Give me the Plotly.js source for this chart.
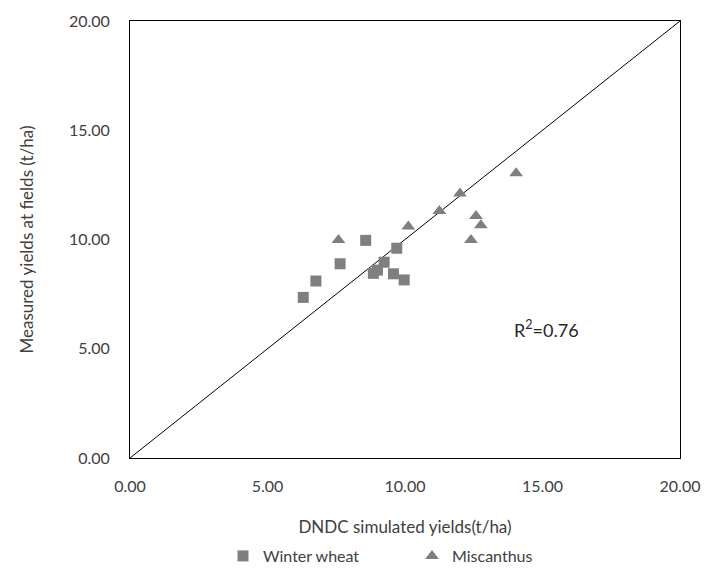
<!DOCTYPE html>
<html>
<head>
<meta charset="utf-8">
<script src="https://cdn.plot.ly/plotly-3.0.1.min.js"></script>
<style>html,body{margin:0;padding:0;background:#fff;}#chart{width:704px;height:572px;}</style>
</head>
<body>
<div id="chart"></div>
<script>
// Winter wheat: DNDC simulated (x) vs measured (y), t/ha
const wheatSim  = [6.30, 6.76, 7.64, 8.57, 9.70, 8.85, 9.00, 9.24, 9.58, 9.97];
const wheatMeas = [7.35, 8.10, 8.89, 9.96, 9.60, 8.45, 8.60, 8.96, 8.43, 8.15];
// Miscanthus
const miscSim  = [7.58, 10.12, 11.25, 12.00, 12.58, 12.76, 12.40, 14.04];
const miscMeas = [9.98, 10.59, 11.30, 12.11, 11.08, 10.65, 9.98, 13.03];
// 1:1 line
const lineX = [0, 20];
const lineY = [0, 20];
const tickVals = [0, 5, 10, 15, 20];
const tickText = ["0.00", "5.00", "10.00", "15.00", "20.00"];
const r2Label = "R<sup>2</sup>=0.76";
const r2Pos = [13.9, 5.9];

const font = "Lato, 'Open Sans', sans-serif";
const grey = "#7f7f7f";

const traces = [
  {x: lineX, y: lineY, mode: "lines", line: {color: "#000", width: 1}, showlegend: false, hoverinfo: "skip"},
  {x: wheatSim, y: wheatMeas, mode: "markers", name: "Winter wheat",
   marker: {symbol: "square", size: 11, color: grey}},
  {x: miscSim, y: miscMeas, mode: "markers", name: "Miscanthus",
   marker: {symbol: "triangle-up", size: 12, color: grey}}
];

const axisCommon = {
  range: [0, 20], tickvals: tickVals, ticktext: tickText,
  showgrid: false, zeroline: false, showline: true, mirror: true,
  linecolor: "#000", linewidth: 1, ticks: "", automargin: false,
  tickfont: {family: font, size: 16, color: "#404040"}
};

const layout = {
  width: 704, height: 572,
  margin: {l: 130, r: 24, t: 21, b: 114, autoexpand: false},
  paper_bgcolor: "#fff", plot_bgcolor: "#fff",
  font: {family: font, color: "#404040"},
  xaxis: Object.assign({}, axisCommon, {
    ticklabelstandoff: 14,
    title: {text: "DNDC simulated yields(t/ha)", font: {family: font, size: 17, color: "#404040"}, standoff: 26}
  }),
  yaxis: Object.assign({}, axisCommon, {
    ticklabelstandoff: 16,
    title: {text: "Measured yields at fields (t/ha)", font: {family: font, size: 17, color: "#404040"}, standoff: 30}
  }),
  showlegend: true,
  legend: {
    orientation: "h", x: (223 - 130) / 550, xanchor: "left",
    y: 1 - 539 / 572, yanchor: "top", yref: "container",
    entrywidth: 144, entrywidthmode: "pixels",
    font: {family: font, size: 16, color: "#404040"},
    bgcolor: "rgba(0,0,0,0)"
  },
  annotations: [{
    x: r2Pos[0], y: r2Pos[1], xref: "x", yref: "y", text: r2Label,
    showarrow: false, xanchor: "left", yanchor: "middle",
    font: {family: font, size: 18, color: "#262626"}
  }]
};

Plotly.newPlot("chart", traces, layout, {displayModeBar: false, staticPlot: true});
</script>
</body>
</html>
